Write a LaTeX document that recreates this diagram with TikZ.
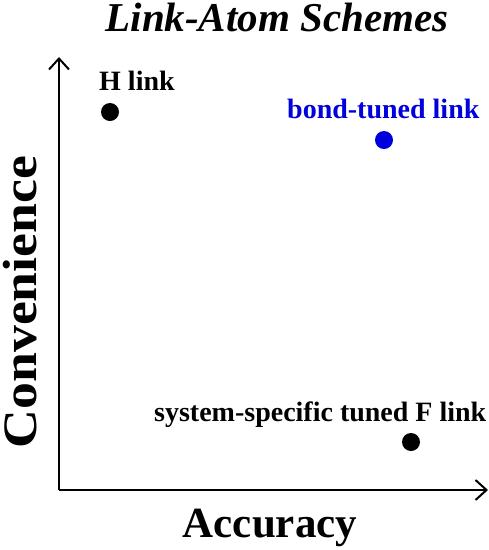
\documentclass[tikz,border=0pt]{standalone}
\usepackage{fontspec}
\setmainfont{Liberation Serif}
\newfontfamily\widefont[FakeStretch=1.12]{Liberation Serif}
\usetikzlibrary{arrows.meta}
\definecolor{bondblue}{RGB}{0,0,220}
\begin{document}
\begin{tikzpicture}[x=1pt,y=-1pt,
  lbl/.style={inner sep=0pt,font=\bfseries\fontsize{28}{28}\selectfont},
  dot/.style={circle,fill=black,inner sep=0pt,minimum size=18pt},
  axis/.style={line width=2pt,-{Straight Barb[length=11pt,width=20pt,line width=2pt]}}]
\useasboundingbox (0,0) rectangle (489,550);
\node[inner sep=0pt,anchor=base,font=\bfseries\itshape\fontsize{41}{41}\selectfont] (title) at (277,31) {Link-Atom Schemes};
\coordinate (origin) at (59,490);
\coordinate (ytip) at (59,57);
\coordinate (xtip) at (488,490);
\draw[axis] (origin) -- (ytip);
\draw[axis] (origin) -- (xtip);
\node[inner sep=0pt,anchor=base,font=\bfseries\fontsize{43}{43}\selectfont] (xlab) at (270,537) {Accuracy};
\node[inner sep=0pt,anchor=base,rotate=90,font=\widefont\bfseries\fontsize{48}{48}\selectfont] (ylab) at (37,302) {Convenience};
\node[dot] (h) at (110,112) {};
\node[lbl,anchor=base west] (hl) at (99,90) {H link};
\node[dot,fill=bondblue] (b) at (384,140) {};
\node[lbl,anchor=base west,text=bondblue] (bl) at (287,118) {bond-tuned link};
\node[dot] (f) at (411,442) {};
\node[lbl,anchor=base west] (fl) at (154,421) {system-specific tuned F link};
\end{tikzpicture}
\end{document}
